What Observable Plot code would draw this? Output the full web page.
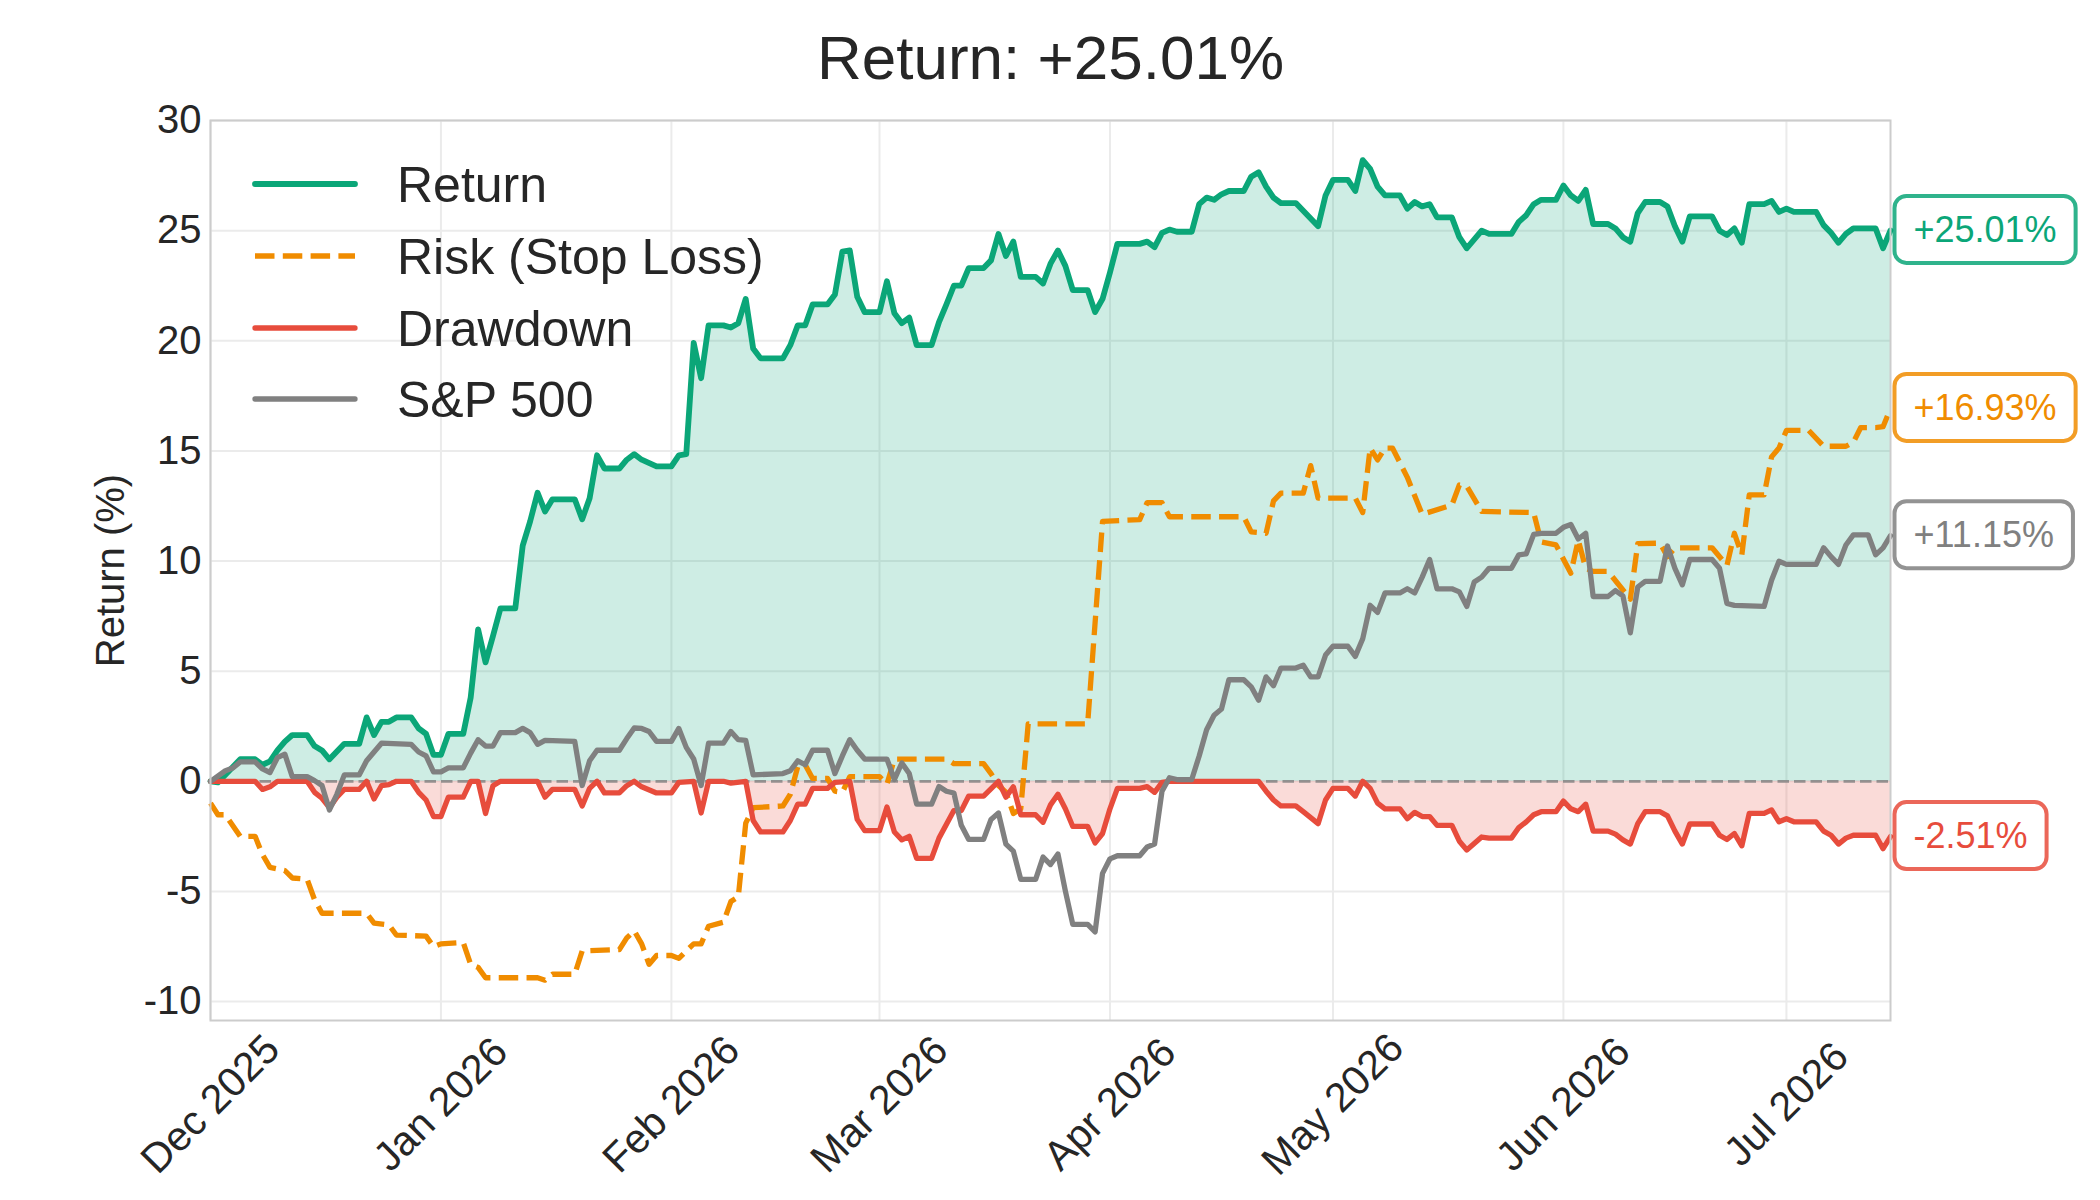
<!DOCTYPE html>
<html>
<head>
<meta charset="utf-8">
<script src="https://cdn.jsdelivr.net/npm/d3@7"></script>
<script src="https://cdn.jsdelivr.net/npm/@observablehq/plot@0.6"></script>
<style>
  html, body { margin: 0; padding: 0; background: #ffffff; }
  #chart { width: 2100px; height: 1200px; }
</style>
</head>
<body>
<div id="chart"></div>
<script>
// ---------------- data ----------------
const titleText = "Return: +25.01%";
const yAxisLabel = "Return (%)";

const yTicks = [-10, -5, 0, 5, 10, 15, 20, 25, 30];
const yTickLabels = ["-10", "-5", "0", "5", "10", "15", "20", "25", "30"];

const monthTicks = ["2025-12-01", "2026-01-01", "2026-02-01", "2026-03-01", "2026-04-01", "2026-05-01", "2026-06-01", "2026-07-01"];
const monthLabels = ["Dec 2025", "Jan 2026", "Feb 2026", "Mar 2026", "Apr 2026", "May 2026", "Jun 2026", "Jul 2026"];

const seriesNames = ["Return", "Risk (Stop Loss)", "Drawdown", "S&P 500"];
const seriesColors = ["#0ba678", "#f08c00", "#e74c3c", "#808080"];

const endLabelTexts = ["+25.01%", "+16.93%", "+11.15%", "-2.51%"];
const endLabelValues = [25.01, 16.93, 11.15, -2.51];
const endLabelColors = ["#0ba678", "#f08c00", "#808080", "#e74c3c"];

const returnData = [
["2025-12-01",0],["2025-12-02",-0.05],["2025-12-05",1.0],["2025-12-07",1.0],["2025-12-08",0.75],["2025-12-09",0.9],["2025-12-10",1.4],["2025-12-11",1.8],["2025-12-12",2.1],["2025-12-14",2.1],["2025-12-15",1.6],["2025-12-16",1.4],["2025-12-17",1.0],["2025-12-18",1.35],["2025-12-19",1.7],["2025-12-21",1.7],["2025-12-22",2.9],["2025-12-23",2.1],["2025-12-24",2.7],["2025-12-25",2.7],["2025-12-26",2.9],["2025-12-28",2.9],["2025-12-29",2.4],["2025-12-30",2.15],["2025-12-31",1.2],
["2026-01-01",1.2],["2026-01-02",2.15],["2026-01-04",2.15],["2026-01-05",3.8],["2026-01-06",6.9],["2026-01-07",5.4],["2026-01-08",6.6],["2026-01-09",7.85],["2026-01-11",7.85],["2026-01-12",10.7],["2026-01-13",11.8],["2026-01-14",13.1],["2026-01-15",12.25],["2026-01-16",12.8],["2026-01-19",12.8],["2026-01-20",11.9],["2026-01-21",12.85],["2026-01-22",14.8],["2026-01-23",14.2],["2026-01-25",14.2],["2026-01-26",14.6],["2026-01-27",14.85],["2026-01-28",14.6],["2026-01-30",14.3],
["2026-02-01",14.3],["2026-02-02",14.8],["2026-02-03",14.85],["2026-02-04",19.9],["2026-02-05",18.3],["2026-02-06",20.7],["2026-02-08",20.7],["2026-02-09",20.6],["2026-02-10",20.8],["2026-02-11",21.9],["2026-02-12",19.65],["2026-02-13",19.2],["2026-02-16",19.2],["2026-02-17",19.8],["2026-02-18",20.7],["2026-02-19",20.7],["2026-02-20",21.65],["2026-02-22",21.65],["2026-02-23",22.1],["2026-02-24",24.05],["2026-02-25",24.1],["2026-02-26",22.0],["2026-02-27",21.3],
["2026-03-01",21.3],["2026-03-02",22.7],["2026-03-03",21.25],["2026-03-04",20.8],["2026-03-05",21.05],["2026-03-06",19.8],["2026-03-08",19.8],["2026-03-09",20.85],["2026-03-10",21.65],["2026-03-11",22.5],["2026-03-12",22.5],["2026-03-13",23.3],["2026-03-15",23.3],["2026-03-16",23.65],["2026-03-17",24.85],["2026-03-18",23.85],["2026-03-19",24.5],["2026-03-20",22.9],["2026-03-22",22.9],["2026-03-23",22.6],["2026-03-24",23.5],["2026-03-25",24.1],["2026-03-26",23.4],["2026-03-27",22.3],["2026-03-29",22.3],["2026-03-30",21.3],["2026-03-31",21.9],
["2026-04-01",23.1],["2026-04-02",24.4],["2026-04-05",24.4],["2026-04-06",24.5],["2026-04-07",24.25],["2026-04-08",24.9],["2026-04-09",25.05],["2026-04-10",24.95],["2026-04-12",24.95],["2026-04-13",26.2],["2026-04-14",26.5],["2026-04-15",26.4],["2026-04-16",26.65],["2026-04-17",26.8],["2026-04-19",26.8],["2026-04-20",27.45],["2026-04-21",27.65],["2026-04-22",27.0],["2026-04-23",26.5],["2026-04-24",26.25],["2026-04-26",26.25],["2026-04-27",25.9],["2026-04-29",25.2],["2026-04-30",26.6],
["2026-05-01",27.3],["2026-05-03",27.3],["2026-05-04",26.8],["2026-05-05",28.2],["2026-05-06",27.8],["2026-05-07",27.0],["2026-05-08",26.6],["2026-05-10",26.6],["2026-05-11",26.0],["2026-05-12",26.3],["2026-05-13",26.1],["2026-05-14",26.2],["2026-05-15",25.6],["2026-05-17",25.6],["2026-05-18",24.7],["2026-05-19",24.2],["2026-05-21",25.0],["2026-05-22",24.85],["2026-05-25",24.85],["2026-05-26",25.4],["2026-05-27",25.7],["2026-05-28",26.2],["2026-05-29",26.4],["2026-05-31",26.4],
["2026-06-01",27.05],["2026-06-02",26.6],["2026-06-03",26.35],["2026-06-04",26.85],["2026-06-05",25.3],["2026-06-07",25.3],["2026-06-08",25.1],["2026-06-09",24.7],["2026-06-10",24.5],["2026-06-11",25.8],["2026-06-12",26.3],["2026-06-14",26.3],["2026-06-15",26.1],["2026-06-16",25.2],["2026-06-17",24.5],["2026-06-18",25.65],["2026-06-21",25.65],["2026-06-22",25.0],["2026-06-23",24.8],["2026-06-24",25.1],["2026-06-25",24.45],["2026-06-26",26.2],["2026-06-28",26.2],["2026-06-29",26.35],["2026-06-30",25.85],
["2026-07-01",26.0],["2026-07-02",25.85],["2026-07-05",25.85],["2026-07-06",25.25],["2026-07-07",24.9],["2026-07-08",24.45],["2026-07-09",24.85],["2026-07-10",25.1],["2026-07-13",25.1],["2026-07-14",24.2],["2026-07-15",25.01]
];

const riskData = [
["2025-12-01",-0.99],["2025-12-02",-1.52],["2025-12-03",-1.52],["2025-12-05",-2.5],["2025-12-07",-2.5],["2025-12-08",-3.33],["2025-12-09",-3.91],["2025-12-11",-4.05],["2025-12-12",-4.39],["2025-12-14",-4.45],["2025-12-15",-5.38],["2025-12-16",-5.99],["2025-12-22",-5.99],["2025-12-23",-6.44],["2025-12-25",-6.52],["2025-12-26",-6.98],["2025-12-30",-7.03],["2025-12-31",-7.51],
["2026-01-01",-7.38],["2026-01-04",-7.32],["2026-01-05",-8.31],["2026-01-06",-8.45],["2026-01-07",-8.92],["2026-01-14",-8.92],["2026-01-15",-9.03],["2026-01-16",-8.76],["2026-01-19",-8.76],["2026-01-20",-7.7],["2026-01-25",-7.64],["2026-01-26",-7.11],["2026-01-27",-6.79],["2026-01-28",-7.38],["2026-01-29",-8.31],["2026-01-30",-7.91],
["2026-02-01",-7.91],["2026-02-02",-8.04],["2026-02-03",-7.7],["2026-02-04",-7.38],["2026-02-05",-7.38],["2026-02-06",-6.58],["2026-02-08",-6.4],["2026-02-09",-5.46],["2026-02-10",-5.25],["2026-02-11",-1.9],["2026-02-12",-1.2],["2026-02-16",-1.12],["2026-02-17",-0.59],["2026-02-18",0.67],["2026-02-19",0.75],["2026-02-20",0.13],["2026-02-22",0.13],["2026-02-23",-0.45],["2026-02-24",-0.5],["2026-02-25",0.21],
["2026-03-01",0.21],["2026-03-02",-0.13],["2026-03-03",1.01],["2026-03-10",1.01],["2026-03-11",0.8],["2026-03-15",0.8],["2026-03-16",0.35],["2026-03-17",-0.19],["2026-03-18",-0.5],["2026-03-19",-1.46],["2026-03-20",-1.25],["2026-03-21",2.61],["2026-03-29",2.61],["2026-03-31",11.8],
["2026-04-05",11.88],["2026-04-06",12.65],["2026-04-08",12.65],["2026-04-09",12.01],["2026-04-19",12.01],["2026-04-20",11.32],["2026-04-22",11.26],["2026-04-23",12.73],["2026-04-24",13.08],["2026-04-27",13.08],["2026-04-28",14.33],["2026-04-29",12.86],
["2026-05-04",12.86],["2026-05-05",12.2],["2026-05-06",15.13],["2026-05-07",14.59],["2026-05-08",15.13],["2026-05-09",15.13],["2026-05-11",13.8],["2026-05-13",12.12],["2026-05-17",12.54],["2026-05-18",13.45],["2026-05-19",13.4],["2026-05-21",12.25],["2026-05-28",12.2],["2026-05-29",10.87],["2026-05-31",10.73],
["2026-06-02",9.45],["2026-06-03",10.95],["2026-06-04",9.67],["2026-06-05",9.53],["2026-06-07",9.53],["2026-06-10",8.27],["2026-06-11",10.79],["2026-06-14",10.81],["2026-06-15",10.2],["2026-06-16",10.6],["2026-06-21",10.6],["2026-06-23",9.8],["2026-06-24",11.26],["2026-06-25",10.28],["2026-06-26",13.0],["2026-06-28",13.0],["2026-06-29",14.73],["2026-06-30",15.13],
["2026-07-01",15.93],["2026-07-04",15.93],["2026-07-06",15.21],["2026-07-09",15.21],["2026-07-10",15.39],["2026-07-11",16.06],["2026-07-13",16.06],["2026-07-14",16.1],["2026-07-15",16.93]
];

const drawdownData = [
["2025-12-01",0],["2025-12-07",0],["2025-12-08",-0.37],["2025-12-09",-0.25],["2025-12-10",0],["2025-12-14",0],["2025-12-15",-0.5],["2025-12-16",-0.77],["2025-12-17",-1.2],["2025-12-18",-0.72],["2025-12-19",-0.37],["2025-12-21",-0.37],["2025-12-22",0],["2025-12-23",-0.8],["2025-12-24",-0.2],["2025-12-25",-0.15],["2025-12-26",0],["2025-12-28",0],["2025-12-29",-0.5],["2025-12-30",-0.85],["2025-12-31",-1.6],
["2026-01-01",-1.6],["2026-01-02",-0.72],["2026-01-04",-0.72],["2026-01-05",0],["2026-01-06",0],["2026-01-07",-1.46],["2026-01-08",-0.2],["2026-01-09",0],["2026-01-14",0],["2026-01-15",-0.72],["2026-01-16",-0.37],["2026-01-19",-0.37],["2026-01-20",-1.12],["2026-01-21",-0.32],["2026-01-22",0],["2026-01-23",-0.53],["2026-01-25",-0.53],["2026-01-26",-0.2],["2026-01-27",0],["2026-01-28",-0.25],["2026-01-30",-0.53],
["2026-02-01",-0.53],["2026-02-02",-0.05],["2026-02-04",0],["2026-02-05",-1.44],["2026-02-06",0],["2026-02-08",0],["2026-02-09",-0.08],["2026-02-11",0],["2026-02-12",-1.78],["2026-02-13",-2.3],["2026-02-16",-2.3],["2026-02-17",-1.78],["2026-02-18",-1.04],["2026-02-19",-1.04],["2026-02-20",-0.32],["2026-02-22",-0.32],["2026-02-23",-0.05],["2026-02-25",0],["2026-02-26",-1.73],["2026-02-27",-2.24],
["2026-03-01",-2.24],["2026-03-02",-1.17],["2026-03-03",-2.3],["2026-03-04",-2.66],["2026-03-05",-2.5],["2026-03-06",-3.5],["2026-03-08",-3.5],["2026-03-09",-2.58],["2026-03-11",-1.33],["2026-03-12",-1.33],["2026-03-13",-0.67],["2026-03-15",-0.67],["2026-03-17",0],["2026-03-18",-0.72],["2026-03-19",-0.25],["2026-03-20",-1.52],["2026-03-22",-1.52],["2026-03-23",-1.86],["2026-03-24",-1.07],["2026-03-25",-0.59],["2026-03-26",-1.25],["2026-03-27",-2.05],["2026-03-29",-2.05],["2026-03-30",-2.8],["2026-03-31",-2.37],
["2026-04-01",-1.25],["2026-04-02",-0.32],["2026-04-05",-0.32],["2026-04-06",-0.24],["2026-04-07",-0.5],["2026-04-08",-0.05],["2026-04-09",0],["2026-04-21",0],["2026-04-22",-0.45],["2026-04-23",-0.85],["2026-04-24",-1.12],["2026-04-26",-1.12],["2026-04-27",-1.38],["2026-04-29",-1.92],["2026-04-30",-0.85],
["2026-05-01",-0.32],["2026-05-03",-0.32],["2026-05-04",-0.67],["2026-05-05",0],["2026-05-06",-0.32],["2026-05-07",-0.99],["2026-05-08",-1.25],["2026-05-10",-1.25],["2026-05-11",-1.7],["2026-05-12",-1.41],["2026-05-13",-1.6],["2026-05-14",-1.6],["2026-05-15",-2.0],["2026-05-17",-2.0],["2026-05-18",-2.72],["2026-05-19",-3.12],["2026-05-21",-2.53],["2026-05-22",-2.58],["2026-05-25",-2.58],["2026-05-26",-2.1],["2026-05-27",-1.84],["2026-05-28",-1.52],["2026-05-29",-1.38],["2026-05-31",-1.38],
["2026-06-01",-0.9],["2026-06-02",-1.25],["2026-06-03",-1.38],["2026-06-04",-1.04],["2026-06-05",-2.26],["2026-06-07",-2.26],["2026-06-08",-2.4],["2026-06-09",-2.66],["2026-06-10",-2.85],["2026-06-11",-1.92],["2026-06-12",-1.38],["2026-06-14",-1.38],["2026-06-15",-1.57],["2026-06-16",-2.26],["2026-06-17",-2.85],["2026-06-18",-1.94],["2026-06-21",-1.94],["2026-06-22",-2.45],["2026-06-23",-2.64],["2026-06-24",-2.37],["2026-06-25",-2.93],["2026-06-26",-1.46],["2026-06-28",-1.46],["2026-06-29",-1.3],["2026-06-30",-1.84],
["2026-07-01",-1.7],["2026-07-02",-1.84],["2026-07-05",-1.84],["2026-07-06",-2.26],["2026-07-07",-2.45],["2026-07-08",-2.85],["2026-07-09",-2.58],["2026-07-10",-2.45],["2026-07-13",-2.45],["2026-07-14",-3.06],["2026-07-15",-2.51]
];

const sp500Data = [
["2025-12-01",0],["2025-12-03",0.48],["2025-12-04",0.6],["2025-12-05",0.88],["2025-12-07",0.88],["2025-12-08",0.56],["2025-12-09",0.4],["2025-12-10",1.07],["2025-12-11",1.23],["2025-12-12",0.21],["2025-12-14",0.21],["2025-12-15",0.03],["2025-12-16",-0.19],["2025-12-17",-1.3],["2025-12-18",-0.59],["2025-12-19",0.29],["2025-12-21",0.29],["2025-12-22",0.93],["2025-12-23",1.33],["2025-12-24",1.73],["2025-12-28",1.68],["2025-12-29",1.33],["2025-12-30",1.15],["2025-12-31",0.43],
["2026-01-01",0.43],["2026-01-02",0.61],["2026-01-04",0.61],["2026-01-05",1.28],["2026-01-06",1.89],["2026-01-07",1.6],["2026-01-08",1.6],["2026-01-09",2.21],["2026-01-11",2.21],["2026-01-12",2.4],["2026-01-13",2.21],["2026-01-14",1.68],["2026-01-15",1.86],["2026-01-19",1.81],["2026-01-20",-0.19],["2026-01-21",0.93],["2026-01-22",1.41],["2026-01-25",1.41],["2026-01-26",1.94],["2026-01-27",2.42],["2026-01-28",2.4],["2026-01-29",2.26],["2026-01-30",1.81],
["2026-02-01",1.81],["2026-02-02",2.4],["2026-02-03",1.54],["2026-02-04",1.01],["2026-02-05",-0.19],["2026-02-06",1.73],["2026-02-08",1.73],["2026-02-09",2.26],["2026-02-10",1.89],["2026-02-11",1.86],["2026-02-12",0.29],["2026-02-16",0.35],["2026-02-17",0.48],["2026-02-18",0.93],["2026-02-19",0.75],["2026-02-20",1.41],["2026-02-22",1.41],["2026-02-23",0.35],["2026-02-24",1.15],["2026-02-25",1.89],["2026-02-26",1.41],["2026-02-27",1.01],
["2026-03-02",1.01],["2026-03-03",0.08],["2026-03-04",0.83],["2026-03-05",0.35],["2026-03-06",-1.04],["2026-03-08",-1.04],["2026-03-09",-0.24],["2026-03-10",-0.45],["2026-03-11",-0.53],["2026-03-12",-2.0],["2026-03-13",-2.64],["2026-03-15",-2.64],["2026-03-16",-1.73],["2026-03-17",-1.44],["2026-03-18",-2.85],["2026-03-19",-3.17],["2026-03-20",-4.45],["2026-03-22",-4.45],["2026-03-23",-3.44],["2026-03-24",-3.78],["2026-03-25",-3.3],["2026-03-26",-4.98],["2026-03-27",-6.5],["2026-03-29",-6.5],["2026-03-30",-6.84],["2026-03-31",-4.18],
["2026-04-01",-3.52],["2026-04-02",-3.38],["2026-04-05",-3.38],["2026-04-06",-2.98],["2026-04-07",-2.85],["2026-04-08",-0.45],["2026-04-09",0.16],["2026-04-10",0.08],["2026-04-12",0.08],["2026-04-13",1.15],["2026-04-14",2.34],["2026-04-15",3.0],["2026-04-16",3.28],["2026-04-17",4.61],["2026-04-19",4.61],["2026-04-20",4.29],["2026-04-21",3.68],["2026-04-22",4.74],["2026-04-23",4.34],["2026-04-24",5.14],["2026-04-26",5.14],["2026-04-27",5.27],["2026-04-28",4.74],["2026-04-29",4.74],["2026-04-30",5.73],
["2026-05-01",6.13],["2026-05-03",6.13],["2026-05-04",5.67],["2026-05-05",6.47],["2026-05-06",7.99],["2026-05-07",7.67],["2026-05-08",8.55],["2026-05-10",8.55],["2026-05-11",8.74],["2026-05-12",8.55],["2026-05-13",9.27],["2026-05-14",10.07],["2026-05-15",8.74],["2026-05-17",8.74],["2026-05-18",8.6],["2026-05-19",7.94],["2026-05-20",9.05],["2026-05-21",9.27],["2026-05-22",9.67],["2026-05-25",9.67],["2026-05-26",10.28],["2026-05-27",10.33],["2026-05-28",11.21],["2026-05-29",11.26],["2026-05-31",11.26],
["2026-06-01",11.53],["2026-06-02",11.66],["2026-06-03",11.0],["2026-06-04",11.26],["2026-06-05",8.39],["2026-06-07",8.39],["2026-06-08",8.66],["2026-06-09",8.42],["2026-06-10",6.74],["2026-06-11",8.82],["2026-06-12",9.08],["2026-06-14",9.08],["2026-06-15",10.68],["2026-06-16",9.67],["2026-06-17",8.92],["2026-06-18",10.07],["2026-06-21",10.07],["2026-06-22",9.67],["2026-06-23",8.07],["2026-06-24",7.99],["2026-06-28",7.94],["2026-06-29",9.13],["2026-06-30",9.99],
["2026-07-01",9.85],["2026-07-05",9.85],["2026-07-06",10.6],["2026-07-07",10.2],["2026-07-08",9.85],["2026-07-09",10.73],["2026-07-10",11.19],["2026-07-12",11.19],["2026-07-13",10.28],["2026-07-14",10.6],["2026-07-15",11.15]
];

const xStart = "2025-12-01";
const xEnd = "2026-07-15";

// ---------------- build ----------------
const parse = d3.utcParse("%Y-%m-%d");
const toRows = arr => arr.map(([d, v]) => ({date: parse(d), value: v}));
const ret = toRows(returnData);
const risk = toRows(riskData);
const dd = toRows(drawdownData);
const sp = toRows(sp500Data);
const months = monthTicks.map(parse);
const endDate = parse(xEnd);
const endLabels = endLabelTexts.map((t, i) => ({date: endDate, value: endLabelValues[i], label: t, color: endLabelColors[i]}));

const [cRet, cRisk, cDd, cSp] = seriesColors;
const FONT = "'Liberation Sans', Arial, Helvetica, sans-serif";
const TEXT = "#262626";

const plot = Plot.plot({
  width: 2100,
  height: 1200,
  marginLeft: 210,
  marginRight: 210,
  marginTop: 120,
  marginBottom: 180,
  style: {fontFamily: FONT, color: TEXT, background: "#ffffff", overflow: "visible"},
  x: {type: "utc", domain: [parse(xStart), endDate], axis: null},
  y: {domain: [-10.86, 30], axis: null},
  color: {type: "identity"},
  marks: [
    Plot.ruleY(yTicks, {y: d => d, stroke: "#ebebeb", strokeWidth: 2}),
    Plot.ruleX(months, {x: d => d, stroke: "#ebebeb", strokeWidth: 2}),
    Plot.areaY(ret, {x: "date", y1: 0, y2: "value", fill: cRet, fillOpacity: 0.2, curve: "linear"}),
    Plot.areaY(dd, {x: "date", y1: 0, y2: "value", fill: cDd, fillOpacity: 0.2, curve: "linear"}),
    Plot.ruleY([0], {stroke: "#808080", strokeOpacity: 0.8, strokeWidth: 2.7, strokeDasharray: "11.5,5"}),
    Plot.line(ret, {x: "date", y: "value", stroke: cRet, strokeWidth: 5.8, strokeLinejoin: "round", strokeLinecap: "round"}),
    Plot.line(risk, {x: "date", y: "value", stroke: cRisk, strokeWidth: 5.3, strokeDasharray: "19.5,8.3", strokeLinecap: "butt", strokeLinejoin: "round"}),
    Plot.line(dd, {x: "date", y: "value", stroke: cDd, strokeWidth: 5.3, strokeLinejoin: "round", strokeLinecap: "round"}),
    Plot.line(sp, {x: "date", y: "value", stroke: cSp, strokeWidth: 5.3, strokeLinejoin: "round", strokeLinecap: "round"}),
    Plot.frame({stroke: "#cccccc", strokeWidth: 2}),
    // y tick labels
    Plot.text(yTicks, {y: d => d, text: (d, i) => yTickLabels[i], frameAnchor: "left", dx: -9, textAnchor: "end", lineAnchor: "middle", fontSize: 40, fill: TEXT}),
    // x tick labels (rotated)
    Plot.text(months, {x: d => d, text: (d, i) => monthLabels[i], frameAnchor: "bottom", dy: 84, rotate: -45, textAnchor: "middle", lineAnchor: "middle", fontSize: 41, fill: TEXT}),
    // title
    Plot.text([titleText], {text: d => d, frameAnchor: "top", dy: -42, lineAnchor: "bottom", textAnchor: "middle", fontSize: 62, fill: TEXT}),
    // y axis label
    Plot.text([yAxisLabel], {text: d => d, frameAnchor: "left", dx: -99, rotate: -90, textAnchor: "middle", lineAnchor: "middle", fontSize: 40, fill: TEXT}),
    // end labels
    Plot.text(endLabels, {x: "date", y: "value", text: "label", fill: "color", dx: 23, textAnchor: "start", lineAnchor: "middle", fontSize: 36, className: "endlab"})
  ]
});

document.getElementById("chart").append(plot);

// rounded boxes behind the end labels
const svg = d3.select(plot);
plot.querySelectorAll("g.endlab text").forEach((t, i) => {
  const bb = t.getBBox();
  const cy = bb.y + bb.height / 2;
  const rect = document.createElementNS("http://www.w3.org/2000/svg", "rect");
  rect.setAttribute("x", bb.x - 19);
  rect.setAttribute("y", cy - 33.5);
  rect.setAttribute("width", bb.width + 38);
  rect.setAttribute("height", 67);
  rect.setAttribute("rx", 12);
  rect.setAttribute("ry", 12);
  rect.setAttribute("fill", "#ffffff");
  rect.setAttribute("stroke", endLabelColors[i]);
  rect.setAttribute("stroke-opacity", 0.85);
  rect.setAttribute("stroke-width", 4);
  const tr = t.getAttribute("transform");
  if (tr) rect.setAttribute("transform", tr);
  t.parentNode.insertBefore(rect, t);
});

// legend (upper left, no frame)
const legendRows = [
  {name: seriesNames[0], color: cRet, dash: null, w: 5.8},
  {name: seriesNames[1], color: cRisk, dash: "19.5,8.3", w: 5.3},
  {name: seriesNames[2], color: cDd, dash: null, w: 5.3},
  {name: seriesNames[3], color: cSp, dash: null, w: 5.3}
];
const legendY = [184, 256, 328, 399];
const lg = svg.append("g").attr("font-family", FONT).attr("text-anchor", "start");
legendRows.forEach((r, i) => {
  const y = legendY[i];
  lg.append("line")
    .attr("x1", 255).attr("x2", 355).attr("y1", y).attr("y2", y)
    .attr("stroke", r.color).attr("stroke-width", r.w)
    .attr("stroke-linecap", r.dash ? "butt" : "round")
    .attr("stroke-dasharray", r.dash);
  lg.append("text")
    .attr("x", 397).attr("y", y + 17.5)
    .attr("text-anchor", "start")
    .attr("font-size", 50).attr("fill", TEXT)
    .text(r.name);
});
</script>
</body>
</html>
